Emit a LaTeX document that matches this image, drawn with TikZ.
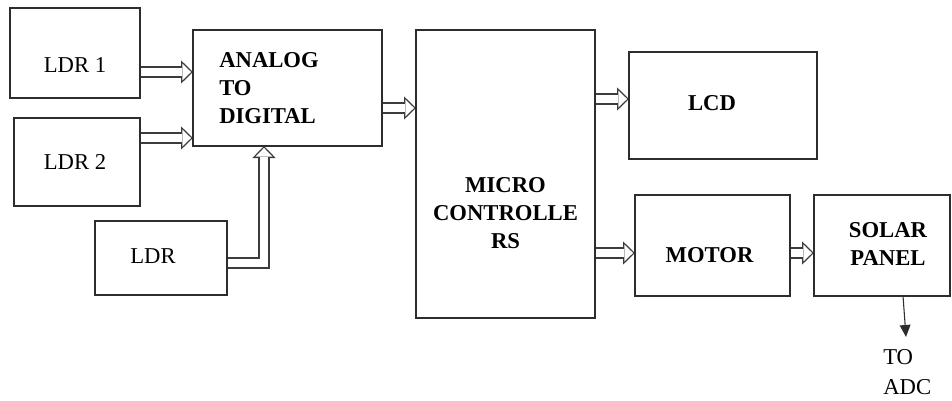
\documentclass[tikz,border=0pt]{standalone}
\usepackage{fontspec}
\setmainfont{Liberation Serif}
\usepackage{tikz}
\usetikzlibrary{arrows.meta,backgrounds,positioning}
\definecolor{boxgray}{RGB}{45, 45, 45}
\definecolor{pipegray}{RGB}{60, 60, 60}

\begin{document}
\begin{tikzpicture}[x=0.75pt, y=-0.75pt, >=Stealth,
			box/.style={draw=boxgray, rectangle, line width=0.9pt, inner sep=0pt, outer sep=0pt},
			txt/.style={font=\fontsize{17}{21}\selectfont, text=black, inner sep=0pt},
			btxt/.style={font=\fontsize{17}{21}\selectfont\bfseries, text=black, inner sep=0pt},
			hollow/.style={draw=pipegray, line width=8.5pt, line join=miter, -{Triangle[length=9pt, width=17.5pt, line width=0pt]},
				postaction={draw=white, line width=6.5pt, line join=miter, shorten >=1.46pt, -{Triangle[length=6.5pt, width=12.6pt, line width=0pt]}}},
			signal/.style={draw=boxgray, line width=0.8pt, -{Triangle[length=9pt, width=8pt]}}
			]
			\useasboundingbox (0,0) rectangle (952,400);
			
			\node[box, minimum width=97.5pt, minimum height=67.5pt, label={[txt, yshift=-9pt]center:LDR 1}](ldr1) at (75,53) {};
			\node[box, minimum width=94.5pt, minimum height=66pt, label={[txt, xshift=-1.5pt]center:LDR 2}](ldr2) at (77,162) {};
			\node[box, minimum width=99pt, minimum height=55.5pt, label={[txt, xshift=-6pt, yshift=1.5pt]center:LDR}](ldr3) at (161,258) {};
			
			\node[box, minimum width=141.75pt, minimum height=87pt, label={[btxt, align=left, anchor=west, xshift=19.5pt]west:ANALOG\\TO\\DIGITAL}](adc) at (287.5,88) {};
			\node[box, minimum width=134.25pt, minimum height=216pt, label={[btxt, align=center, yshift=-29pt]center:MICRO\\CONTROLLE\\RS}](mcu) at (505.5,174) {};
			
			\node[box, minimum width=141pt, minimum height=80.25pt, label={[btxt, xshift=-8.25pt, yshift=1.9pt]center:LCD}](lcd) at (723,105.5) {};
			\node[box, minimum width=116.25pt, minimum height=75.75pt, label={[btxt, xshift=-2.25pt, yshift=-7pt]center:MOTOR}](motor) at (712.5,245.5) {};
			\node[box, minimum width=102pt, minimum height=75.75pt, label={[btxt, align=center, xshift=4.5pt, yshift=1.5pt]center:SOLAR\\PANEL}](solar) at (882,245.5) {};
			
			\node[txt, font=\fontsize{17}{22}\selectfont, align=left, anchor=west](toadc) at (883,372) {TO\\ADC};
			
			% levels of the pipes
			\coordinate (lv1) at (0,72);
			\coordinate (lv2) at (0,138);
			\coordinate (lvadc) at (0,108);
			\coordinate (lvlcd) at (0,99);
			\coordinate (lvmot) at (0,253);
			\coordinate (lv3) at (0,263);
			\coordinate (lx3) at (264,0);
			\coordinate (toend) at (906,337);
			
			\begin{pgfonlayer}{background}
			
			\draw [hollow] (ldr1.east |- lv1) -- (adc.west |- lv1);
			\draw [hollow] (ldr2.east |- lv2) -- (adc.west |- lv2);
			\draw [hollow] (ldr3.east |- lv3) -| (adc.south -| lx3);
			
			\draw [hollow] (adc.east |- lvadc) -- (mcu.west |- lvadc);
			
			\draw [hollow] (mcu.east |- lvlcd) -- (lcd.west |- lvlcd);
			\draw [hollow] (mcu.east |- lvmot) -- (motor.west |- lvmot);
			\draw [hollow] (motor.east |- lvmot) -- (solar.west |- lvmot);
			
			\end{pgfonlayer}
			
			\draw [signal] ([xshift=15.75pt]solar.south) -- (toend);
			
			\end{tikzpicture}
\end{document}
